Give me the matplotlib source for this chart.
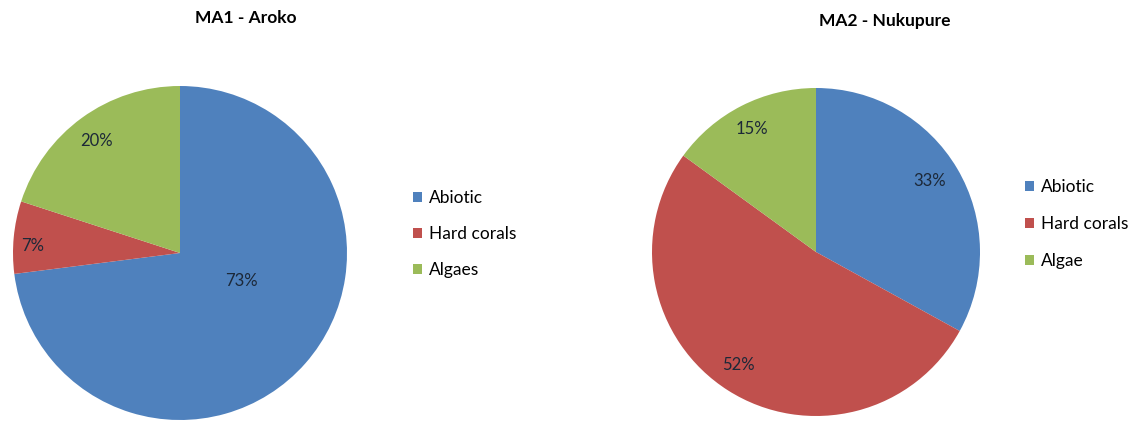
import matplotlib.pyplot as plt

# data
labels1 = ['Abiotic', 'Hard corals', 'Algaes']
values1 = [73, 7, 20]
labels2 = ['Abiotic', 'Hard corals', 'Algae']
values2 = [33, 52, 15]
titles = ['MA1 - Aroko', 'MA2 - Nukupure']

colors = ['#4F81BD', '#C0504D', '#9BBB59']

# label positions (relative to pie centre, radius 1) - mimic Excel placement
lab_pos1 = [(0.37, -0.17), (-0.88, 0.04), (-0.50, 0.67)]
lab_pos2 = [(0.69, 0.43), (-0.47, -0.69), (-0.39, 0.75)]

plt.rcParams['font.family'] = ['Lato', 'DejaVu Sans']

W, H = 1139, 423
fig = plt.figure(figsize=(W / 100, H / 100), dpi=100)


def px_axes(left, top, size):
    return fig.add_axes([left / W, 1 - (top + size) / H, size / W, size / H])


def draw(ax, vals, labs, pos):
    wedges, _ = ax.pie(vals, colors=colors, startangle=90, counterclock=False,
                       radius=1, wedgeprops=dict(linewidth=0))
    for v, (x, y) in zip(vals, pos):
        ax.text(x, y, f'{v}%', ha='center', va='center', fontsize=12,
                color='#1c2838')
    ax.set_xlim(-1, 1)
    ax.set_ylim(-1, 1)
    ax.set_aspect('equal')
    ax.axis('off')
    return wedges


ax1 = px_axes(13, 86, 334)
w1 = draw(ax1, values1, labels1, lab_pos1)
ax2 = px_axes(652, 88, 328)
w2 = draw(ax2, values2, labels2, lab_pos2)

fig.text(246 / W, 1 - 18 / H, titles[0], ha='center', va='center',
         fontsize=12.5, fontweight='bold')
fig.text(885 / W, 1 - 21 / H, titles[1], ha='center', va='center',
         fontsize=12.5, fontweight='bold')

leg_kw = dict(frameon=False, fontsize=12.5, handlelength=0.5, handleheight=0.5,
              handletextpad=0.4, borderpad=0, borderaxespad=0, loc='upper left')
fig.legend(w1, labels1, bbox_to_anchor=(413 / W, 1 - 190 / H),
           labelspacing=1.15, **leg_kw)
fig.legend(w2, labels2, bbox_to_anchor=(1025 / W, 1 - 179 / H),
           labelspacing=1.22, **leg_kw)

fig.savefig('out.png', dpi=100, facecolor='white')
